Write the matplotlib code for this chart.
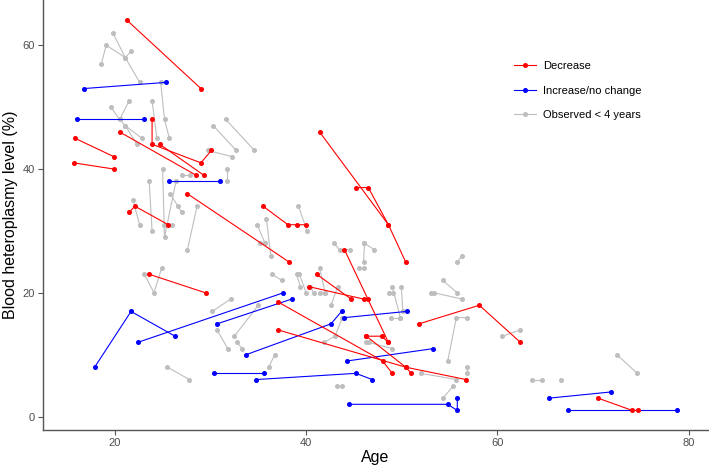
import matplotlib
matplotlib.use("Agg")
import matplotlib.pyplot as plt
from matplotlib.lines import Line2D

plt.rcParams['font.family'] = ['Liberation Sans', 'DejaVu Sans']

# each subject = one path (ages, heteroplasmy levels)
dec_age = [[21.3, 29.0], [15.8, 19.9], [15.7, 19.9], [20.5, 28.5],
           [23.9, 23.9, 29.0, 30.1], [24.7, 29.3], [21.5, 22.1, 25.6],
           [23.6, 29.5], [27.6, 38.2], [35.5, 38.1, 39.0, 40.0],
           [41.4, 48.6], [45.2, 46.5, 48.6, 50.4], [44.0, 48.6],
           [41.1, 44.7], [40.3, 46.0, 46.5], [37.1, 48.0, 49.0],
           [37.1, 50.4, 56.7], [46.3, 47.9, 48.6], [46.3, 50.4, 51.0],
           [51.8, 58.1, 62.4], [70.5, 74.1, 74.7]]
dec_lvl = [[64, 53], [45, 42], [41, 40], [46, 39],
           [48, 44, 41, 43], [44, 39], [33, 34, 31],
           [23, 20], [36, 25], [34, 31, 31, 31],
           [46, 31], [37, 37, 31, 25], [27, 12],
           [23, 19], [21, 19, 19], [18.5, 9, 7],
           [14, 8, 6], [13, 13, 12], [13, 8, 7],
           [15, 18, 12], [3, 1, 1]]

inc_age = [[16.8, 25.4], [16.1, 23.1], [25.7, 31.0], [17.9, 21.7, 26.3],
           [22.4, 37.6], [30.7, 38.5], [33.7, 42.6, 43.7], [44.0, 50.5],
           [44.3, 53.3], [30.4, 35.6], [34.8, 45.2, 46.9],
           [44.5, 54.8, 55.8, 55.8], [65.4, 71.9], [67.4, 78.8]]
inc_lvl = [[53, 54], [48, 48], [38, 38], [8, 17, 13],
           [12, 20], [15, 19], [10, 15, 17], [16, 17],
           [9, 11], [7, 7], [6, 7, 6],
           [2, 2, 1, 3], [3, 4], [1, 1]]

short_age = [[18.6, 19.1, 21.1, 21.7], [19.8, 21.1, 22.6], [24.8, 25.2, 25.7],
             [19.6, 20.5, 21.5], [20.5, 21.1, 22.8], [21.1, 22.3], [23.9, 24.4],
             [30.3, 32.7], [31.6, 34.6], [29.7, 32.3], [31.7, 31.7],
             [23.6, 23.9], [25.0, 25.2, 26.4], [21.9, 22.6], [25.1, 26.0],
             [25.8, 26.6, 27.0], [27.0, 27.85], [27.6, 28.6], [23.1, 24.1, 24.9],
             [25.5, 27.8], [30.2, 32.1], [30.7, 31.8], [32.5, 35.0], [32.8, 33.3],
             [36.1, 36.7], [36.4, 37.5], [34.9, 35.7], [35.2, 35.7], [35.85, 36.3],
             [39.2, 40.1], [39.0, 39.4], [39.3, 40.0], [41.4, 42.0], [41.4, 42.0],
             [42.6, 43.3], [40.4, 40.8], [42.9, 43.5, 44.6], [46.1, 47.1],
             [46.1, 46.0], [45.5, 46.1], [49.0, 49.85], [49.95, 50.1],
             [48.7, 49.1], [48.9, 49.85], [53.0, 53.4, 56.3], [54.3, 55.8],
             [55.8, 56.3], [54.8, 55.7, 56.8], [54.3, 55.4], [56.8, 56.8],
             [52.0, 55.7], [60.5, 62.35], [63.6, 64.6], [66.6], [72.5, 74.6],
             [43.2, 43.7], [41.9, 43.0, 43.8], [46.3, 46.55, 49.0]]
short_lvl = [[57, 60, 58, 59], [62, 58, 54], [54, 48, 45],
             [50, 48, 51], [48, 47, 45], [47, 44], [51, 45],
             [47, 43], [48, 43], [43, 42], [40, 38],
             [38, 30], [40, 29, 38], [35, 31], [31, 31],
             [36, 34, 33], [39, 39], [27, 34], [23, 20, 24],
             [8, 6], [17, 19], [14, 11], [13, 18], [12, 11],
             [8, 10], [23, 22], [31, 28], [28, 28], [32, 26],
             [34, 30], [23, 21], [23, 20], [24, 20], [20, 20],
             [18, 21], [21, 20], [28, 27, 27], [28, 27],
             [28, 25], [24, 24], [21, 16], [21, 17],
             [20, 20], [16, 16], [20, 20, 19], [22, 20],
             [25, 26], [9, 16, 16], [3, 5], [8, 7],
             [7, 6], [13, 14], [6, 6], [6], [10, 7],
             [5, 5], [12, 13, 16], [12, 12, 11]]

fig = plt.figure(figsize=(7.09, 4.68), dpi=100)
ax = fig.add_axes([43/709, 1 - 430/468, 665/709, 430/468])

for a, v in zip(short_age, short_lvl):
    ax.plot(a, v, '-o', color='#BEBEBE', lw=0.8, ms=2.6)
for a, v in zip(inc_age, inc_lvl):
    ax.plot(a, v, '-o', color='#0000FF', lw=0.8, ms=2.6)
for a, v in zip(dec_age, dec_lvl):
    ax.plot(a, v, '-o', color='#FF0000', lw=0.8, ms=2.6)

ax.set_xlim(12.5, 82.0)
ax.set_ylim(-2.15, 67.3)
ax.set_xticks([20, 40, 60, 80])
ax.set_yticks([0, 20, 40, 60])
for s in ['top', 'right']:
    ax.spines[s].set_visible(False)
for s in ['left', 'bottom']:
    ax.spines[s].set_color('#555555')
    ax.spines[s].set_linewidth(1.0)
ax.tick_params(colors='#555555', labelcolor='#4D4D4D', labelsize=8, length=3.5, pad=2.5)
ax.set_xlabel('Age', fontsize=11.5, color='black', labelpad=1)
ax.set_ylabel('Blood heteroplasmy level (%)', fontsize=11.5, color='black', labelpad=3)

handles = [Line2D([], [], color='#FF0000', lw=0.8, marker='o', ms=2.6),
           Line2D([], [], color='#0000FF', lw=0.8, marker='o', ms=2.6),
           Line2D([], [], color='#BEBEBE', lw=0.8, marker='o', ms=2.6)]
ax.legend(handles, ['Decrease', 'Increase/no change', 'Observed < 4 years'],
          loc='upper left', bbox_to_anchor=(0.708, 0.858), frameon=False,
          fontsize=8, handlelength=2.0, handletextpad=0.6, labelspacing=1.3,
          borderpad=0, borderaxespad=0)

fig.savefig('out.png', dpi=100)
